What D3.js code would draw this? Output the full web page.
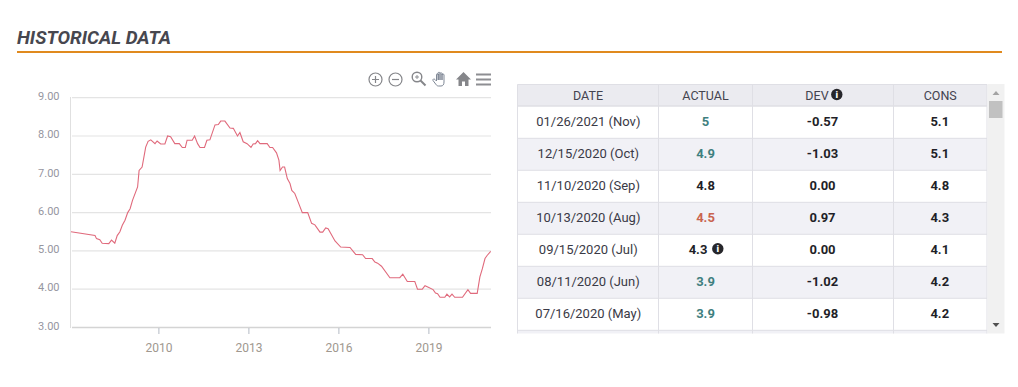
<!DOCTYPE html>
<html><head><meta charset="utf-8">
<script src="https://cdn.jsdelivr.net/npm/d3@7"></script>
<style>html,body{margin:0;padding:0;background:#fff;overflow:hidden}svg{display:block}text{font-family:Roboto,sans-serif}</style>
</head><body><svg id="c" width="1018" height="387"></svg>
<script>
const years=[2007.07,2007.87,2007.92,2008.03,2008.11,2008.33,2008.42,2008.53,2008.61,2008.70,2008.78,2008.87,2008.96,2009.04,2009.12,2009.29,2009.34,2009.44,2009.56,2009.64,2009.73,2009.87,2009.94,2010.06,2010.20,2010.29,2010.39,2010.53,2010.68,2010.78,2010.88,2010.94,2011.11,2011.19,2011.29,2011.37,2011.52,2011.60,2011.70,2011.87,2011.98,2012.06,2012.20,2012.37,2012.48,2012.62,2012.70,2012.81,2012.94,2013.07,2013.14,2013.22,2013.29,2013.37,2013.61,2013.70,2013.79,2013.92,2014.00,2014.04,2014.12,2014.19,2014.28,2014.37,2014.43,2014.53,2014.64,2014.78,2014.96,2015.09,2015.20,2015.37,2015.46,2015.56,2015.64,2015.87,2016.06,2016.37,2016.56,2016.79,2016.89,2017.11,2017.20,2017.29,2017.42,2017.70,2018.03,2018.13,2018.28,2018.53,2018.62,2018.78,2018.87,2018.98,2019.14,2019.22,2019.29,2019.37,2019.53,2019.60,2019.69,2019.77,2019.86,2020.12,2020.30,2020.39,2020.61,2020.70,2020.78,2020.87,2020.94,2021.06];
const rates=[5.5,5.40,5.32,5.29,5.2,5.19,5.28,5.2,5.4,5.5,5.67,5.8,6.0,6.1,6.32,6.67,7.1,7.19,7.71,7.86,7.9,7.8,7.87,7.79,7.79,8.0,7.98,7.8,7.8,7.7,7.7,7.89,7.89,8.0,7.8,7.7,7.7,7.89,7.9,8.29,8.3,8.39,8.39,8.21,8.2,8.0,8.09,7.85,7.8,7.7,7.79,7.8,7.88,7.8,7.8,7.7,7.7,7.56,7.37,7.1,7.19,7.19,6.89,6.76,6.58,6.5,6.28,6.0,6.0,5.72,5.68,5.49,5.49,5.6,5.58,5.26,5.1,5.09,4.91,4.9,4.8,4.8,4.71,4.68,4.6,4.3,4.3,4.39,4.2,4.2,4.0,4.0,4.09,4.05,3.99,3.9,3.88,3.79,3.79,3.87,3.8,3.87,3.79,3.79,3.99,3.89,3.89,4.32,4.53,4.8,4.88,4.99];
const yTicks=[3,4,5,6,7,8,9];
const xTicks=[2010,2013,2016,2019];
const headers=["DATE","ACTUAL","DEV","CONS"];
const dates=["01/26/2021 (Nov)","12/15/2020 (Oct)","11/10/2020 (Sep)","10/13/2020 (Aug)","09/15/2020 (Jul)","08/11/2020 (Jun)","07/16/2020 (May)"];
const actual=["5","4.9","4.8","4.5","4.3","3.9","3.9"];
const dev=["-0.57","-1.03","0.00","0.97","0.00","-1.02","-0.98"];
const cons=["5.1","5.1","4.8","4.3","4.1","4.2","4.2"];
const revised=[false,false,false,false,true,false,false];

const svg=d3.select("#c");
// Title
svg.append("text").attr("x",17).attr("y",43.5).attr("font-size",18.8).attr("font-weight",700).attr("font-style","italic").attr("fill","#47474f").text("HISTORICAL DATA");
svg.append("rect").attr("x",17).attr("y",51).attr("width",985).attr("height",2).attr("fill","#e08a1e");

// Chart
const x=d3.scaleLinear().domain([2007.07,2021.07]).range([71,491]);
const y=d3.scaleLinear().domain([3,9]).range([327.5,97.7]);
const g=svg.append("g");
g.selectAll(".grid").data(yTicks).join("line").attr("x1",72).attr("x2",491).attr("y1",d=>y(d)).attr("y2",d=>y(d)).attr("stroke",d=>d===3?"#d4d4d4":"#e4e4e4").attr("stroke-width",d=>d===3?1.5:1.2);
g.append("line").attr("x1",70.5).attr("x2",70.5).attr("y1",97).attr("y2",328).attr("stroke","#e0e0e0");
g.selectAll(".yl").data(yTicks).join("text").attr("x",59.5).attr("y",d=>y(d)+2.2).attr("text-anchor","end").attr("font-size",11).attr("fill","#96969f").text(d=>d3.format(".2f")(d));
g.selectAll(".xt").data(xTicks).join("line").attr("x1",d=>x(d)).attr("x2",d=>x(d)).attr("y1",328).attr("y2",334).attr("stroke","#b4bac4");
g.selectAll(".xl").data(xTicks).join("text").attr("x",d=>x(d)).attr("y",352).attr("text-anchor","middle").attr("font-size",12).attr("fill","#a0988f").text(d=>d);
const line=d3.line().x((d,i)=>x(years[i])).y(d=>y(d));
g.append("path").attr("d",line(rates)).attr("fill","none").attr("stroke","#e06a7c").attr("stroke-width",1.1);

// Toolbar icons
const tb=svg.append("g").attr("fill","none").attr("stroke","#85868a").attr("stroke-width",1.2);
[[375.5,true],[395.5,false]].forEach(([cx,plus])=>{
  tb.append("circle").attr("cx",cx).attr("cy",79.5).attr("r",6.5);
  tb.append("path").attr("d",`M${cx-3.5} 79.5H${cx+3.5}`+(plus?`M${cx} 76V83`:""));
});
tb.append("circle").attr("cx",417).attr("cy",77).attr("r",4.8).attr("stroke-width",1.4);
tb.append("path").attr("d","M420.5 80.5L425.5 85.5").attr("stroke-width",2);
tb.append("path").attr("d","M415 77H419M417 75V79").attr("stroke-width",.9);
tb.append("path").attr("d","M436 84.5L433 80.5C432.5 79 434 78.5 435 79.5L436.5 81V74.5C436.5 73.5 438 73.5 438 74.5V73C438 72 440 72 440 73V73.5C440 72.5 442 72.5 442 73.5V74.5C442 73.8 444 73.8 444 74.8V82C444 84.5 443 86 441 86H438.5C437.5 86 436.7 85.5 436 84.5Z").attr("stroke","#7e8795").attr("stroke-width",1);
tb.append("path").attr("d","M438.2 74V80M440 73.5V80M442 74V80").attr("stroke","#6d7686").attr("stroke-width",1.3);
svg.append("path").attr("d","M463.5 72L471 79.5H468.5V86H465V81.5H462V86H458.5V79.5H456Z").attr("fill","#85868a");
tb.append("path").attr("d","M476 74.5H491M476 79.5H491M476 84.5H491").attr("stroke","#8d8e92").attr("stroke-width",1.8);

// Table
const cols=[517.5,658.5,752.5,893.5,987];
const headTop=84.5,headBottom=106,rowH=32,tblBottom=333.5;
const T=svg.append("g");
const rowY=i=>headBottom+i*rowH;
const rowsAll=d3.range(dates.length+1);
T.selectAll(".bg").data(rowsAll).join("rect").attr("x",cols[0]).attr("width",cols[4]-cols[0]).attr("y",i=>rowY(i)).attr("height",i=>Math.min(rowH,tblBottom-rowY(i))).attr("fill",i=>i%2?"#f1f1f6":"#fff");
T.append("rect").attr("x",cols[0]).attr("y",headTop).attr("width",cols[4]-cols[0]).attr("height",headBottom-headTop).attr("fill","#ebebf0");
T.selectAll(".hl").data(rowsAll).join("line").attr("x1",cols[0]).attr("x2",cols[4]).attr("y1",i=>rowY(i+1)+.3).attr("y2",i=>rowY(i+1)+.3).attr("stroke",i=>rowY(i+1)<tblBottom?"#dfdfe5":"none").attr("stroke-width",1);
T.append("line").attr("x1",cols[0]).attr("x2",cols[4]).attr("y1",headTop).attr("y2",headTop).attr("stroke","#dfdfe5");
T.append("line").attr("x1",cols[0]).attr("x2",cols[4]).attr("y1",headBottom).attr("y2",headBottom).attr("stroke","#dfdfe5").attr("stroke-width",1.5);
T.selectAll(".vl").data(cols).join("line").attr("x1",d=>d).attr("x2",d=>d).attr("y1",headTop).attr("y2",tblBottom).attr("stroke","#dfdfe5");
const mid=j=>(cols[j]+cols[j+1])/2;
const hOff=[0,0,-6,0];
T.selectAll(".ht").data(headers).join("text").attr("x",(d,j)=>mid(j)+hOff[j]).attr("y",99.5).attr("text-anchor","middle").attr("font-size",12.5).attr("fill","#43434f").text(d=>d);
function info(cx,cy,r){
  T.append("circle").attr("cx",cx).attr("cy",cy).attr("r",r).attr("fill","#26262b");
  T.append("text").attr("x",cx).attr("y",cy+3.3).attr("text-anchor","middle").attr("font-size",9.5).attr("font-weight",900).attr("fill","#fff").text("i");
}
info(836.8,94.5,5.7);
const actualColor=v=>+v<0?"#3f7f7f":+v>0?"#c9644f":"#1f1f28";
dates.forEach((d,i)=>{
  const ty=rowY(i)+19.5;
  T.append("text").attr("x",mid(0)+.3).attr("y",ty).attr("text-anchor","middle").attr("font-size",13).attr("fill","#3a3a46").text(d);
  T.append("text").attr("x",mid(1)-(revised[i]?7.5:0)).attr("y",ty).attr("text-anchor","middle").attr("font-size",13).attr("font-weight",700).attr("fill",actualColor(dev[i])).text(actual[i]);
  if(revised[i]) info(717.8,rowY(i)+14.8,5.7);
  T.append("text").attr("x",mid(2)-.5).attr("y",ty).attr("text-anchor","middle").attr("font-size",13).attr("font-weight",700).attr("fill","#1f1f28").text(dev[i]);
  T.append("text").attr("x",mid(3)-.5).attr("y",ty).attr("text-anchor","middle").attr("font-size",13).attr("font-weight",700).attr("fill","#1f1f28").text(cons[i]);
});
// Scrollbar
svg.append("rect").attr("x",987.5).attr("y",84).attr("width",17).attr("height",249.5).attr("fill","#f1f1f1");
svg.append("rect").attr("x",989).attr("y",101).attr("width",13.5).attr("height",17).attr("fill","#c1c1c1");
svg.append("path").attr("d","M992.5 95L996 91L999.5 95Z").attr("fill","#a3a3a3");
svg.append("path").attr("d","M992.5 323L996 327L999.5 323Z").attr("fill","#505050");
</script></body></html>
